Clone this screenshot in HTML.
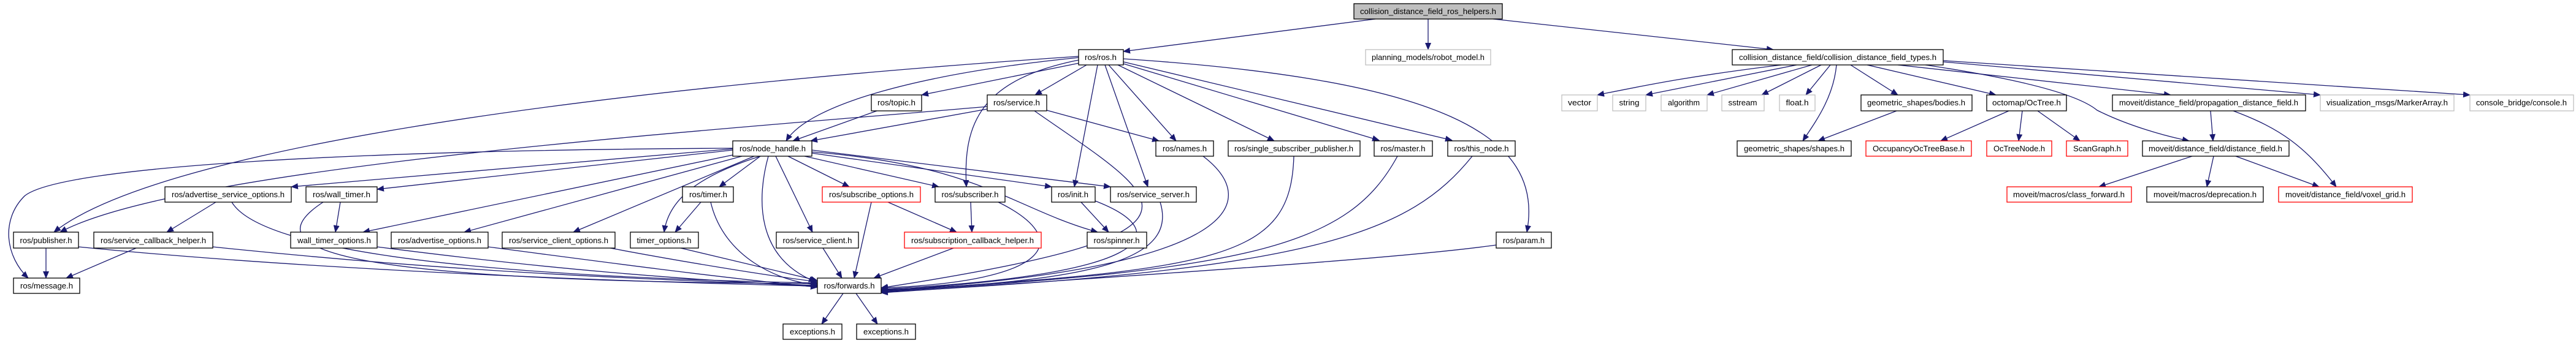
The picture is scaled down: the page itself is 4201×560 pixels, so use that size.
<!DOCTYPE html>
<html><head><meta charset="utf-8"><style>
html,body{margin:0;padding:0;background:#fff;}
svg{display:block}
text{font-family:"Liberation Sans",sans-serif;font-size:13px;fill:#000}
.e{fill:none;stroke:#191970;stroke-width:1.3}
</style></head><body>
<svg width="4201" height="560" viewBox="0 0 4201 560" xmlns="http://www.w3.org/2000/svg">
<defs><marker id="a" markerUnits="userSpaceOnUse" markerWidth="12" markerHeight="10" refX="11" refY="5" orient="auto"><path d="M0,0 L12,5 L0,10 Z" fill="#191970"/></marker></defs>
<g class="e" marker-end="url(#a)">
<path d="M2243,31 L1832,84"/>
<path d="M2329,31 L2329,81"/>
<path d="M2435,31 L2892,81"/>
<path d="M1759,92 C900,150 250,250 88,379"/>
<path d="M1759,94 C1500,120 1320,170 1282,230"/>
<path d="M1760,103 L1503,155"/>
<path d="M1772,106 L1688,155"/>
<path d="M1759,98 C1600,130 1570,200 1576,305"/>
<path d="M1790,106 L1752,305"/>
<path d="M1802,106 L1872,305"/>
<path d="M1808,106 L1918,230"/>
<path d="M1823,106 L2078,230"/>
<path d="M1832,104 L2249,229"/>
<path d="M1832,101 L2368,229"/>
<path d="M1832,96 C2350,130 2520,220 2490,379"/>
<path d="M1195,243 L475,305"/>
<path d="M1195,245 L615,309"/>
<path d="M1195,242 C600,245 100,270 40,320 C0,360 10,420 46,454"/>
<path d="M1610,174 C1200,210 300,270 98,379"/>
<path d="M1200,252 L592,379"/>
<path d="M1210,255 L757,379"/>
<path d="M1230,255 L935,379"/>
<path d="M1240,255 C1130,290 1090,330 1083,379"/>
<path d="M1240,255 L1173,305"/>
<path d="M1253,255 C1235,320 1230,420 1330,460"/>
<path d="M1265,255 L1325,379"/>
<path d="M1285,255 L1385,305"/>
<path d="M1312,255 L1531,305"/>
<path d="M1324,250 L1715,305"/>
<path d="M1324,245 L1811,305"/>
<path d="M1324,248 C1600,270 1650,340 1790,379"/>
<path d="M1430,181 L1293,230"/>
<path d="M1610,178 L1322,230"/>
<path d="M1707,180 L1890,230"/>
<path d="M1687,181 C1900,330 2020,380 1437,470"/>
<path d="M1143,330 L1101,379"/>
<path d="M1159,330 C1180,420 1270,460 1333,465"/>
<path d="M1421,330 L1393,454"/>
<path d="M1448,330 L1560,379"/>
<path d="M1583,330 L1585,379"/>
<path d="M1628,330 C1750,390 1720,460 1437,470"/>
<path d="M1555,405 L1425,454"/>
<path d="M1763,330 L1808,379"/>
<path d="M1786,328 C1920,380 1880,450 1437,472"/>
<path d="M1892,330 C1920,420 1800,460 1437,473"/>
<path d="M1342,405 L1373,454"/>
<path d="M1962,255 C2060,330 2020,440 1437,474"/>
<path d="M2110,255 C2105,420 2000,440 1437,475"/>
<path d="M2279,255 C2200,400 2050,440 1437,476"/>
<path d="M2401,255 C2300,380 2150,440 1437,477"/>
<path d="M2440,400 C2300,420 2000,440 1437,478"/>
<path d="M1375,479 L1340,529"/>
<path d="M1396,479 L1431,529"/>
<path d="M378,330 C420,400 700,450 1333,462"/>
<path d="M352,330 L272,379"/>
<path d="M555,330 L547,379"/>
<path d="M527,330 C420,400 500,460 1333,463"/>
<path d="M128,403 C500,440 1000,460 1333,467"/>
<path d="M75,405 L75,454"/>
<path d="M222,405 L108,454"/>
<path d="M347,403 C700,440 1000,455 1333,466"/>
<path d="M615,403 C900,440 1100,455 1333,468"/>
<path d="M796,403 C1000,430 1150,450 1333,469"/>
<path d="M990,404 C1100,425 1250,450 1333,460"/>
<path d="M1110,405 L1333,458"/>
<path d="M2905,106 C2750,125 2680,140 2605,155"/>
<path d="M2930,106 L2684,155"/>
<path d="M2955,106 L2784,155"/>
<path d="M2970,106 L2873,155"/>
<path d="M2985,106 L2945,155"/>
<path d="M2995,106 C2990,160 2960,200 2940,230"/>
<path d="M3018,106 L3095,155"/>
<path d="M3045,106 L3255,155"/>
<path d="M3095,106 L3540,155"/>
<path d="M3169,101 L3784,155"/>
<path d="M3169,99 L4028,155"/>
<path d="M3140,106 C3300,130 3390,155 3420,180 C3470,205 3530,222 3570,230"/>
<path d="M3093,181 L2965,230"/>
<path d="M3276,181 L3165,230"/>
<path d="M3298,181 L3292,230"/>
<path d="M3323,181 L3392,230"/>
<path d="M3605,181 L3609,230"/>
<path d="M3642,181 C3720,210 3760,240 3810,305"/>
<path d="M3575,255 L3423,305"/>
<path d="M3610,255 L3599,305"/>
<path d="M3646,255 L3782,305"/>
</g>
<g stroke-width="1.3">
<!-- black nodes -->
<g fill="#fff" stroke="#000">
<rect x="1759" y="81" width="73" height="25"/>
<rect x="2825" y="81" width="344" height="25"/>
<rect x="1421" y="155" width="82" height="26"/>
<rect x="1610" y="155" width="97" height="26"/>
<rect x="1195" y="230" width="129" height="25"/>
<rect x="1885" y="230" width="94" height="25"/>
<rect x="2003" y="230" width="215" height="25"/>
<rect x="2241" y="230" width="95" height="25"/>
<rect x="2361" y="230" width="110" height="25"/>
<rect x="269" y="305" width="206" height="25"/>
<rect x="499" y="305" width="116" height="25"/>
<rect x="1113" y="305" width="83" height="25"/>
<rect x="1525" y="305" width="114" height="25"/>
<rect x="1715" y="305" width="71" height="25"/>
<rect x="1811" y="305" width="140" height="25"/>
<rect x="22" y="379" width="106" height="26"/>
<rect x="153" y="379" width="194" height="26"/>
<rect x="474" y="379" width="141" height="26"/>
<rect x="638" y="379" width="158" height="26"/>
<rect x="819" y="379" width="184" height="26"/>
<rect x="1028" y="379" width="111" height="26"/>
<rect x="1266" y="379" width="134" height="26"/>
<rect x="1773" y="379" width="97" height="26"/>
<rect x="2440" y="379" width="90" height="26"/>
<rect x="22" y="454" width="108" height="25"/>
<rect x="1333" y="454" width="104" height="25"/>
<rect x="1277" y="529" width="96" height="25"/>
<rect x="1397" y="529" width="96" height="25"/>
<rect x="3035" y="155" width="181" height="26"/>
<rect x="3240" y="155" width="130" height="26"/>
<rect x="3445" y="155" width="315" height="26"/>
<rect x="2833" y="230" width="186" height="25"/>
<rect x="3494" y="230" width="239" height="25"/>
<rect x="3501" y="305" width="190" height="25"/>
</g>
<g fill="#fff" stroke="#bfbfbf">
<rect x="2227" y="81" width="204" height="25"/>
<rect x="2547" y="155" width="58" height="26"/>
<rect x="2630" y="155" width="54" height="26"/>
<rect x="2709" y="155" width="75" height="26"/>
<rect x="2808" y="155" width="69" height="26"/>
<rect x="2902" y="155" width="58" height="26"/>
<rect x="3784" y="155" width="218" height="26"/>
<rect x="4028" y="155" width="169" height="26"/>
</g>
<g fill="#fff" stroke="#ff0000">
<rect x="1341" y="305" width="160" height="25"/>
<rect x="1475" y="379" width="223" height="26"/>
<rect x="3043" y="230" width="172" height="25"/>
<rect x="3240" y="230" width="106" height="25"/>
<rect x="3370" y="230" width="100" height="25"/>
<rect x="3273" y="305" width="203" height="25"/>
<rect x="3716" y="305" width="218" height="25"/>
</g>
<rect x="2208" y="6" width="242" height="25" fill="#bfbfbf" stroke="#000"/>
</g>
<g text-anchor="middle" lengthAdjust="spacingAndGlyphs">
<text x="2329" y="23" textLength="222" lengthAdjust="spacingAndGlyphs">collision_distance_field_ros_helpers.h</text>
<text x="1795" y="98" textLength="52" lengthAdjust="spacingAndGlyphs">ros/ros.h</text>
<text x="2329" y="98" textLength="184" lengthAdjust="spacingAndGlyphs">planning_models/robot_model.h</text>
<text x="2997" y="98" textLength="322" lengthAdjust="spacingAndGlyphs">collision_distance_field/collision_distance_field_types.h</text>
<text x="1462" y="172" textLength="62" lengthAdjust="spacingAndGlyphs">ros/topic.h</text>
<text x="1658" y="172" textLength="76" lengthAdjust="spacingAndGlyphs">ros/service.h</text>
<text x="2576" y="172" textLength="38" lengthAdjust="spacingAndGlyphs">vector</text>
<text x="2657" y="172" textLength="33" lengthAdjust="spacingAndGlyphs">string</text>
<text x="2746" y="172" textLength="52" lengthAdjust="spacingAndGlyphs">algorithm</text>
<text x="2842" y="172" textLength="47" lengthAdjust="spacingAndGlyphs">sstream</text>
<text x="2931" y="172" textLength="37" lengthAdjust="spacingAndGlyphs">float.h</text>
<text x="3125" y="172" textLength="160" lengthAdjust="spacingAndGlyphs">geometric_shapes/bodies.h</text>
<text x="3305" y="172" textLength="112" lengthAdjust="spacingAndGlyphs">octomap/OcTree.h</text>
<text x="3602" y="172" textLength="292" lengthAdjust="spacingAndGlyphs">moveit/distance_field/propagation_distance_field.h</text>
<text x="3893" y="172" textLength="198" lengthAdjust="spacingAndGlyphs">visualization_msgs/MarkerArray.h</text>
<text x="4112" y="172" textLength="148" lengthAdjust="spacingAndGlyphs">console_bridge/console.h</text>
<text x="1260" y="247" textLength="108" lengthAdjust="spacingAndGlyphs">ros/node_handle.h</text>
<text x="1932" y="247" textLength="72" lengthAdjust="spacingAndGlyphs">ros/names.h</text>
<text x="2110" y="247" textLength="194" lengthAdjust="spacingAndGlyphs">ros/single_subscriber_publisher.h</text>
<text x="2288" y="247" textLength="73" lengthAdjust="spacingAndGlyphs">ros/master.h</text>
<text x="2416" y="247" textLength="89" lengthAdjust="spacingAndGlyphs">ros/this_node.h</text>
<text x="2926" y="247" textLength="164" lengthAdjust="spacingAndGlyphs">geometric_shapes/shapes.h</text>
<text x="3129" y="247" textLength="150" lengthAdjust="spacingAndGlyphs">OccupancyOcTreeBase.h</text>
<text x="3293" y="247" textLength="84" lengthAdjust="spacingAndGlyphs">OcTreeNode.h</text>
<text x="3420" y="247" textLength="78" lengthAdjust="spacingAndGlyphs">ScanGraph.h</text>
<text x="3613" y="247" textLength="218" lengthAdjust="spacingAndGlyphs">moveit/distance_field/distance_field.h</text>
<text x="372" y="322" textLength="184" lengthAdjust="spacingAndGlyphs">ros/advertise_service_options.h</text>
<text x="557" y="322" textLength="94" lengthAdjust="spacingAndGlyphs">ros/wall_timer.h</text>
<text x="1155" y="322" textLength="62" lengthAdjust="spacingAndGlyphs">ros/timer.h</text>
<text x="1421" y="322" textLength="138" lengthAdjust="spacingAndGlyphs">ros/subscribe_options.h</text>
<text x="1582" y="322" textLength="93" lengthAdjust="spacingAndGlyphs">ros/subscriber.h</text>
<text x="1750" y="322" textLength="50" lengthAdjust="spacingAndGlyphs">ros/init.h</text>
<text x="1881" y="322" textLength="118" lengthAdjust="spacingAndGlyphs">ros/service_server.h</text>
<text x="3374" y="322" textLength="182" lengthAdjust="spacingAndGlyphs">moveit/macros/class_forward.h</text>
<text x="3596" y="322" textLength="168" lengthAdjust="spacingAndGlyphs">moveit/macros/deprecation.h</text>
<text x="3825" y="322" textLength="196" lengthAdjust="spacingAndGlyphs">moveit/distance_field/voxel_grid.h</text>
<text x="75" y="397" textLength="85" lengthAdjust="spacingAndGlyphs">ros/publisher.h</text>
<text x="250" y="397" textLength="172" lengthAdjust="spacingAndGlyphs">ros/service_callback_helper.h</text>
<text x="545" y="397" textLength="120" lengthAdjust="spacingAndGlyphs">wall_timer_options.h</text>
<text x="717" y="397" textLength="136" lengthAdjust="spacingAndGlyphs">ros/advertise_options.h</text>
<text x="911" y="397" textLength="162" lengthAdjust="spacingAndGlyphs">ros/service_client_options.h</text>
<text x="1083" y="397" textLength="89" lengthAdjust="spacingAndGlyphs">timer_options.h</text>
<text x="1333" y="397" textLength="113" lengthAdjust="spacingAndGlyphs">ros/service_client.h</text>
<text x="1586" y="397" textLength="200" lengthAdjust="spacingAndGlyphs">ros/subscription_callback_helper.h</text>
<text x="1821" y="397" textLength="75" lengthAdjust="spacingAndGlyphs">ros/spinner.h</text>
<text x="2485" y="397" textLength="68" lengthAdjust="spacingAndGlyphs">ros/param.h</text>
<text x="76" y="471" textLength="86" lengthAdjust="spacingAndGlyphs">ros/message.h</text>
<text x="1385" y="471" textLength="83" lengthAdjust="spacingAndGlyphs">ros/forwards.h</text>
<text x="1325" y="546" textLength="74" lengthAdjust="spacingAndGlyphs">exceptions.h</text>
<text x="1445" y="546" textLength="74" lengthAdjust="spacingAndGlyphs">exceptions.h</text>
</g>
</svg>
</body></html>
